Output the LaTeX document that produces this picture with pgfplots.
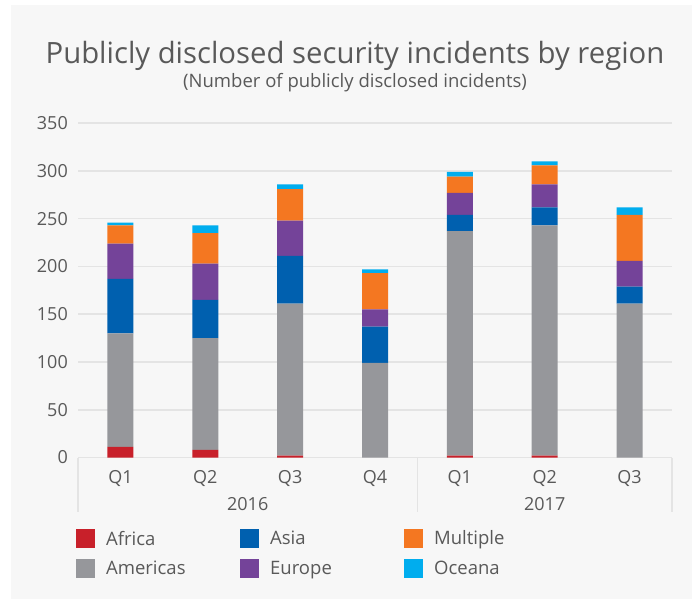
\documentclass[border=0pt]{standalone}
\usepackage{fontspec}
\setmainfont{Open Sans}
\usepackage{pgfplots}
\pgfplotsset{compat=1.18}
\definecolor{bg}{HTML}{F7F7F7}
\definecolor{txt}{HTML}{595959}
\definecolor{gridc}{HTML}{E4E4E4}
\definecolor{africa}{HTML}{C8202A}
\definecolor{americas}{HTML}{96979B}
\definecolor{asia}{HTML}{0060AF}
\definecolor{europe}{HTML}{744399}
\definecolor{multiple}{HTML}{F47721}
\definecolor{oceana}{HTML}{00ADEE}
\pgfplotsset{sq/.style={legend image code/.code={\fill[##1] (0pt,-9.5pt) rectangle (19pt,9.5pt);}}}
\pgfplotstableread{
x Africa Americas Asia Europe Multiple Oceana
0 11 119 57 37 19 3
1 8 117 40 38 32 8
2 2 159 50 37 33 5
3 0 99 38 18 38 4
4 2 235 17 23 17 5
5 2 241 19 24 20 4
6 0 161 18 27 48 8
}\datatable
\begin{document}
\begin{tikzpicture}[x=1pt,y=1pt]
\fill[white] (0,0) rectangle (692,599);
\fill[bg] (11,0) rectangle (692,594);
\node[text=txt, font=\fontsize{29.3}{33}\selectfont, anchor=base, inner sep=0pt] at (355,535.7) {Publicly disclosed security incidents by region};
\node[text=txt, font=\fontsize{18.5}{21}\selectfont, anchor=base, inner sep=0pt] at (355,511.7) {(Number of publicly disclosed incidents)};
\begin{axis}[
  at={(78pt,141.5pt)}, anchor=south west,
  scale only axis, width=594pt, height=334.25pt,
  ymin=0, ymax=350, xmin=-0.5, xmax=6.5,
  ybar stacked, bar width=26pt,
  ytick={0,50,...,350},
  xtick={0,...,6}, xticklabels={Q1,Q2,Q3,Q4,Q1,Q2,Q3},
  axis line style={draw=none},
  major tick length=0pt,
  ymajorgrids, grid style={color=gridc, line width=1.5pt},
  /pgf/number format/assume math mode=true,
  tick label style={font=\fontsize{18}{20}\selectfont, text=txt, inner sep=0pt},
  yticklabel style={anchor=east, xshift=-10pt},
  xticklabel style={anchor=base, yshift=-25.5pt},
  clip=false,
  legend style={draw=none, fill=none, at={(axis description cs:-0.0085,-0.208)}, anchor=north west,
    legend columns=2, transpose legend,
    /tikz/every odd column/.style={column sep=11pt},
    /tikz/every even column/.style={column sep=0pt},
    row sep=11pt,
    font=\fontsize{18.5}{20}\selectfont, text=txt,
    nodes={inner sep=0pt, text width=134pt, align=left}},
  legend cell align=left,
]
\addplot[fill=africa, draw=none, sq] table[x=x, y=Africa] {\datatable};
\addplot[fill=americas, draw=none, sq] table[x=x, y=Americas] {\datatable};
\addplot[fill=asia, draw=none, sq] table[x=x, y=Asia] {\datatable};
\addplot[fill=europe, draw=none, sq] table[x=x, y=Europe] {\datatable};
\addplot[fill=multiple, draw=none, sq] table[x=x, y=Multiple] {\datatable};
\addplot[fill=oceana, draw=none, sq] table[x=x, y=Oceana] {\datatable};
\legend{Africa, Americas, Asia, Europe, Multiple, Oceana}
\draw[gridc, line width=1.5pt] (axis cs:-0.5,0) -- ++(0pt,-54pt);
\draw[gridc, line width=1.5pt] (axis cs:3.5,0) -- ++(0pt,-54pt);
\draw[gridc, line width=1.5pt] (axis cs:6.5,0) -- ++(0pt,-54pt);
\node[text=txt, font=\fontsize{18}{20}\selectfont, anchor=base, inner sep=0pt] at ([yshift=-52.5pt]axis cs:1.5,0) {2016};
\node[text=txt, font=\fontsize{18}{20}\selectfont, anchor=base, inner sep=0pt] at ([yshift=-52.5pt]axis cs:5,0) {2017};
\end{axis}
\end{tikzpicture}
\end{document}
